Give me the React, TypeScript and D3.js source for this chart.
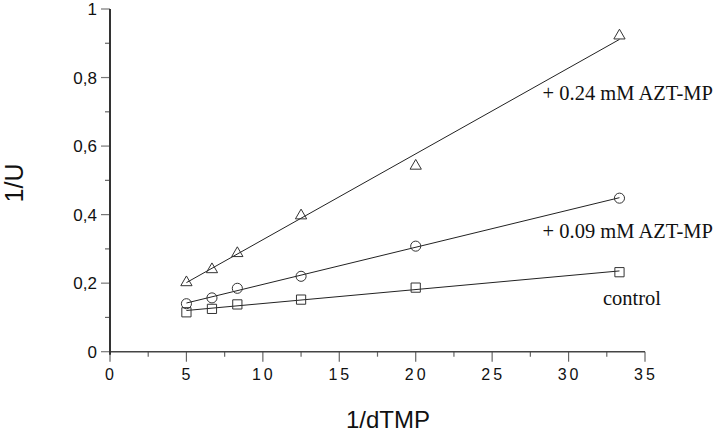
import React, { useEffect, useRef } from "react";
import * as d3 from "d3";

// 1/dTMP values (same for every series)
const xValues = [5, 6.67, 8.33, 12.5, 20, 33.33];
const controlValues = [0.115, 0.125, 0.138, 0.152, 0.187, 0.232];
const azt009Values = [0.14, 0.157, 0.185, 0.22, 0.308, 0.448];
const azt024Values = [0.205, 0.243, 0.29, 0.4, 0.545, 0.925];
const seriesNames = ["control", "+ 0.09 mM AZT-MP", "+ 0.24 mM AZT-MP"];
const seriesSymbols = ["square", "circle", "triangle"];
const xTicks = [0, 5, 10, 15, 20, 25, 30, 35];
const yTicks = [0, 0.2, 0.4, 0.6, 0.8, 1];
// label anchor points in data units [x, y]
const labelAt = [
  [32.25, 0.136],
  [28.3, 0.332],
  [28.3, 0.734],
];

const width = 720,
  height = 434;

const fit = (xs: number[], ys: number[]) => {
  const mx = d3.mean(xs) as number,
    my = d3.mean(ys) as number;
  let sxy = 0,
    sxx = 0;
  xs.forEach((x, i) => {
    sxy += (x - mx) * (ys[i] - my);
    sxx += (x - mx) * (x - mx);
  });
  const slope = sxy / sxx;
  return { slope, intercept: my - slope * mx };
};

export default function App() {
  const ref = useRef<SVGSVGElement>(null);

  useEffect(() => {
    const svg = d3.select(ref.current);
    svg.selectAll("*").remove();

    const x = d3.scaleLinear().domain([0, 35]).range([110, 645]);
    const y = d3.scaleLinear().domain([0, 1]).range([351.7, 9]);
    const fmt = (v: number) => (v === 0 || v === 1 ? String(v) : d3.format(".1f")(v).replace(".", ","));

    // minor ticks
    const xMinor = d3.range(2.5, 35, 5);
    const yMinor = d3.range(0.1, 1, 0.2);
    svg
      .append("g")
      .selectAll("line")
      .data(xMinor)
      .join("line")
      .attr("x1", (d) => x(d))
      .attr("x2", (d) => x(d))
      .attr("y1", y(0))
      .attr("y2", y(0) + 5)
      .attr("stroke", "#666")
      .attr("stroke-width", 1.2);
    svg
      .append("g")
      .selectAll("line")
      .data(yMinor)
      .join("line")
      .attr("x1", x(0) - 5)
      .attr("x2", x(0))
      .attr("y1", (d) => y(d))
      .attr("y2", (d) => y(d))
      .attr("stroke", "#666")
      .attr("stroke-width", 1.2);

    // major ticks
    svg
      .append("g")
      .selectAll("line")
      .data(xTicks)
      .join("line")
      .attr("x1", (d) => x(d))
      .attr("x2", (d) => x(d))
      .attr("y1", y(0))
      .attr("y2", y(0) + 10)
      .attr("stroke", "#666")
      .attr("stroke-width", 1.2);
    svg
      .append("g")
      .selectAll("line")
      .data(yTicks)
      .join("line")
      .attr("x1", x(0) - 9)
      .attr("x2", x(0))
      .attr("y1", (d) => y(d))
      .attr("y2", (d) => y(d))
      .attr("stroke", "#777")
      .attr("stroke-width", 1.2);

    // axis lines
    svg
      .append("line")
      .attr("x1", x(0))
      .attr("x2", x(35))
      .attr("y1", y(0))
      .attr("y2", y(0))
      .attr("stroke", "#444")
      .attr("stroke-width", 1.5);
    svg
      .append("line")
      .attr("x1", x(0))
      .attr("x2", x(0))
      .attr("y1", y(0) + 3)
      .attr("y2", y(1))
      .attr("stroke", "#333")
      .attr("stroke-width", 2);

    // tick labels
    svg
      .append("g")
      .selectAll("text")
      .data(xTicks)
      .join("text")
      .attr("x", (d) => x(d) + 1)
      .attr("y", 380)
      .attr("text-anchor", "middle")
      .attr("font-family", "Liberation Sans, Arial, sans-serif")
      .attr("font-size", 16)
      .attr("letter-spacing", 3)
      .attr("fill", "#111")
      .text((d) => d);
    svg
      .append("g")
      .selectAll("text")
      .data(yTicks)
      .join("text")
      .attr("x", 97)
      .attr("y", (d) => y(d) + 6)
      .attr("text-anchor", "end")
      .attr("font-family", "Liberation Sans, Arial, sans-serif")
      .attr("font-size", 17)
      .attr("fill", "#111")
      .text((d) => fmt(d));

    // axis titles
    svg
      .append("text")
      .attr("x", 388)
      .attr("y", 428)
      .attr("text-anchor", "middle")
      .attr("font-family", "Liberation Sans, Arial, sans-serif")
      .attr("font-size", 24)
      .attr("fill", "#111")
      .text("1/dTMP");
    svg
      .append("text")
      .attr("transform", "translate(23,183) rotate(-90)")
      .attr("text-anchor", "middle")
      .attr("font-family", "Liberation Sans, Arial, sans-serif")
      .attr("font-size", 25)
      .attr("fill", "#111")
      .text("1/U");

    const allSeries = [controlValues, azt009Values, azt024Values];
    const symbolType: Record<string, d3.SymbolType> = {
      square: d3.symbolSquare,
      circle: d3.symbolCircle,
      triangle: d3.symbolTriangle,
    };
    const symbolSize: Record<string, number> = { square: 85, circle: 80, triangle: 55 };

    allSeries.forEach((vals, si) => {
      const { slope, intercept } = fit(xValues, vals);
      const x0 = xValues[0],
        x1 = xValues[xValues.length - 1];
      svg
        .append("line")
        .attr("x1", x(x0))
        .attr("y1", y(intercept + slope * x0))
        .attr("x2", x(x1))
        .attr("y2", y(intercept + slope * x1))
        .attr("stroke", "#222")
        .attr("stroke-width", 1);

      const sym = seriesSymbols[si];
      svg
        .append("g")
        .selectAll("path")
        .data(vals)
        .join("path")
        .attr("transform", (d, i) => `translate(${x(xValues[i])},${y(d) + (sym === "triangle" ? 1 : 0)})`)
        .attr("d", d3.symbol().type(symbolType[sym]).size(symbolSize[sym])())
        .attr("fill", "none")
        .attr("stroke", "#333")
        .attr("stroke-width", 1);

      svg
        .append("text")
        .attr("x", x(labelAt[si][0]))
        .attr("y", y(labelAt[si][1]))
        .attr("font-family", "Liberation Serif, Times New Roman, serif")
        .attr("font-size", 20.5)
        .attr("fill", "#111")
        .text(seriesNames[si]);
    });
  }, []);

  return (
    <svg
      ref={ref}
      width={width}
      height={height}
      style={{ position: "absolute", left: 0, top: 0, background: "#fff" }}
    ></svg>
  );
}
